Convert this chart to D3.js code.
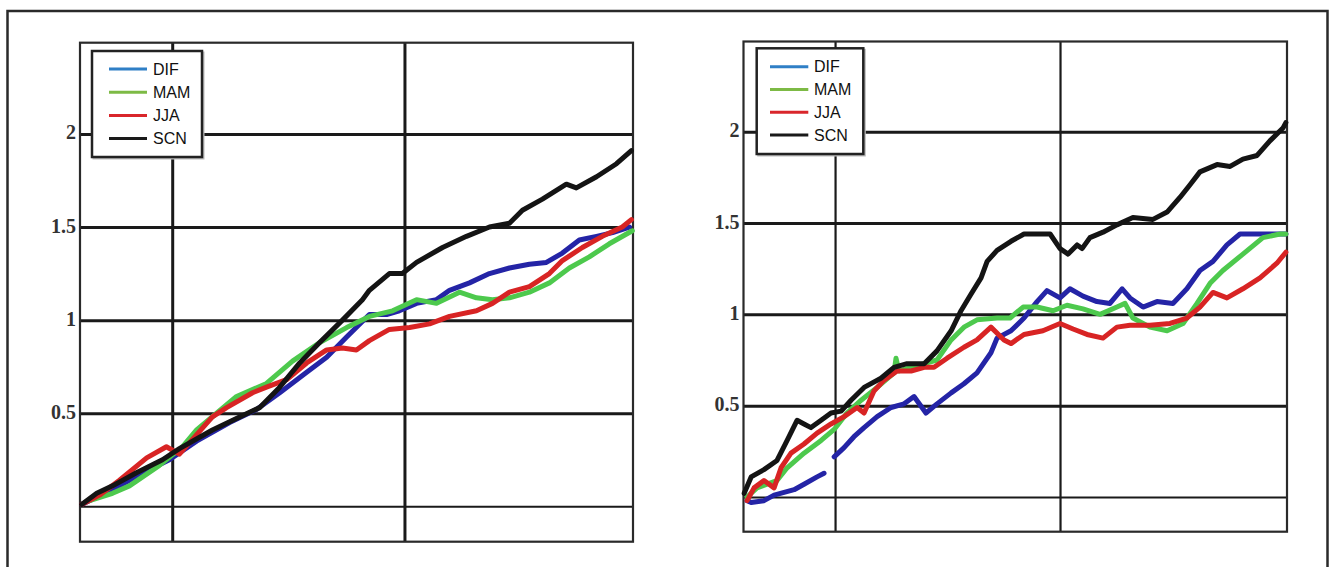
<!DOCTYPE html>
<html>
<head>
<meta charset="utf-8">
<script src="https://cdn.jsdelivr.net/npm/d3@7"></script>
<style>
  html, body { margin: 0; padding: 0; background: #fff; }
  svg { display: block; }
</style>
</head>
<body>
<svg id="chart" width="1330" height="567"></svg>
<script>
// ---------- data ----------
const seriesNames = ["DIF", "MAM", "JJA", "SCN"];
const yGridValues = [0, 0.5, 1, 1.5, 2];
const yTickLabels = ["", "0.5", "1", "1.5", "2"];
const xGridValues = [0, 1];

// left panel
const leftDIF = [[-0.390,0.01],[-0.257,0.09],[-0.110,0.19],[-0.012,0.25],[0.105,0.35],[0.247,0.45],[0.363,0.52],[0.463,0.61],[0.579,0.72],[0.665,0.80],[0.751,0.91],[0.849,1.03],[0.923,1.03],[0.978,1.05],[1.052,1.09],[1.138,1.11],[1.194,1.16],[1.280,1.20],[1.366,1.25],[1.452,1.28],[1.538,1.30],[1.611,1.31],[1.680,1.36],[1.753,1.43],[1.827,1.45],[1.896,1.47],[1.969,1.50]];
const leftMAM = [[-0.356,0.03],[-0.257,0.07],[-0.184,0.11],[-0.055,0.22],[0.044,0.32],[0.105,0.41],[0.277,0.59],[0.406,0.66],[0.518,0.78],[0.635,0.88],[0.751,0.96],[0.849,1.02],[0.949,1.05],[1.052,1.11],[1.138,1.09],[1.237,1.15],[1.310,1.12],[1.379,1.11],[1.452,1.12],[1.538,1.15],[1.624,1.20],[1.710,1.28],[1.796,1.34],[1.882,1.41],[1.981,1.48]];
const leftJJA = [[-0.390,0.01],[-0.313,0.06],[-0.227,0.14],[-0.110,0.26],[-0.025,0.32],[0.031,0.28],[0.173,0.48],[0.234,0.53],[0.346,0.61],[0.406,0.64],[0.492,0.68],[0.579,0.77],[0.665,0.84],[0.733,0.85],[0.793,0.84],[0.849,0.89],[0.935,0.95],[1.022,0.96],[1.108,0.98],[1.194,1.02],[1.310,1.05],[1.379,1.09],[1.452,1.15],[1.538,1.18],[1.624,1.25],[1.680,1.32],[1.766,1.39],[1.852,1.45],[1.938,1.50],[1.977,1.54]];
const leftSCN = [[-0.390,0.01],[-0.325,0.07],[-0.257,0.11],[-0.154,0.18],[-0.042,0.25],[0.031,0.31],[0.173,0.41],[0.290,0.48],[0.376,0.53],[0.463,0.64],[0.549,0.77],[0.635,0.88],[0.733,1.00],[0.819,1.11],[0.849,1.16],[0.935,1.25],[0.991,1.25],[1.052,1.31],[1.164,1.39],[1.267,1.45],[1.366,1.50],[1.452,1.52],[1.508,1.59],[1.594,1.65],[1.697,1.73],[1.740,1.71],[1.827,1.77],[1.913,1.84],[1.977,1.91]];

// right panel
const rightDIF = [[-0.391,-0.02],[-0.373,-0.03],[-0.316,-0.02],[-0.271,0.01],[-0.182,0.04],[-0.138,0.07],[-0.080,0.11],[-0.049,0.13],null,[-0.004,0.22],[0.040,0.27],[0.084,0.33],[0.129,0.38],[0.187,0.44],[0.249,0.49],[0.307,0.51],[0.351,0.55],[0.404,0.46],[0.453,0.51],[0.516,0.57],[0.573,0.62],[0.631,0.68],[0.693,0.79],[0.720,0.87],[0.782,0.91],[0.840,0.98],[0.898,1.07],[0.942,1.13],[1.000,1.09],[1.044,1.14],[1.102,1.10],[1.164,1.07],[1.222,1.06],[1.276,1.14],[1.311,1.09],[1.369,1.04],[1.431,1.07],[1.502,1.06],[1.564,1.14],[1.622,1.24],[1.680,1.29],[1.742,1.38],[1.800,1.44],[1.876,1.44],[1.933,1.44],[2.004,1.44]];
const rightMAM = [[-0.391,0.00],[-0.347,0.05],[-0.302,0.07],[-0.258,0.09],[-0.213,0.16],[-0.138,0.24],[-0.062,0.31],[-0.004,0.37],[0.053,0.46],[0.116,0.53],[0.187,0.60],[0.262,0.68],[0.271,0.76],[0.284,0.69],[0.338,0.71],[0.396,0.73],[0.453,0.75],[0.516,0.86],[0.573,0.93],[0.631,0.97],[0.720,0.98],[0.778,0.98],[0.836,1.04],[0.898,1.04],[0.969,1.02],[1.031,1.05],[1.102,1.03],[1.178,1.00],[1.253,1.04],[1.289,1.06],[1.324,0.98],[1.400,0.93],[1.476,0.91],[1.547,0.95],[1.609,1.06],[1.667,1.17],[1.724,1.24],[1.813,1.33],[1.902,1.42],[1.978,1.44],[2.004,1.44]];
const rightJJA = [[-0.391,-0.02],[-0.360,0.05],[-0.316,0.09],[-0.271,0.05],[-0.240,0.16],[-0.196,0.24],[-0.138,0.29],[-0.080,0.35],[-0.018,0.40],[0.040,0.44],[0.098,0.49],[0.129,0.46],[0.173,0.58],[0.218,0.64],[0.276,0.69],[0.338,0.69],[0.396,0.71],[0.440,0.71],[0.498,0.76],[0.573,0.82],[0.631,0.86],[0.693,0.93],[0.751,0.86],[0.782,0.84],[0.840,0.89],[0.924,0.91],[1.000,0.95],[1.058,0.92],[1.120,0.89],[1.191,0.87],[1.253,0.93],[1.311,0.94],[1.400,0.94],[1.489,0.95],[1.564,0.98],[1.622,1.04],[1.680,1.12],[1.742,1.09],[1.813,1.14],[1.889,1.20],[1.964,1.28],[2.004,1.34]];
const rightSCN = [[-0.404,0.02],[-0.373,0.11],[-0.316,0.15],[-0.258,0.20],[-0.213,0.31],[-0.169,0.42],[-0.138,0.40],[-0.107,0.38],[-0.062,0.42],[-0.018,0.46],[0.027,0.47],[0.071,0.53],[0.129,0.60],[0.204,0.65],[0.262,0.71],[0.320,0.73],[0.396,0.73],[0.453,0.80],[0.516,0.91],[0.560,1.02],[0.604,1.11],[0.649,1.20],[0.676,1.29],[0.720,1.35],[0.782,1.40],[0.840,1.44],[0.898,1.44],[0.956,1.44],[1.000,1.36],[1.036,1.33],[1.076,1.38],[1.098,1.36],[1.133,1.42],[1.191,1.45],[1.253,1.49],[1.324,1.53],[1.413,1.52],[1.476,1.56],[1.533,1.64],[1.578,1.71],[1.622,1.78],[1.698,1.82],[1.756,1.81],[1.813,1.85],[1.876,1.87],[1.933,1.95],[1.991,2.02],[2.004,2.05]];

// ---------- styling ----------
const lineColors   = { DIF: "#2424a6", MAM: "#4dc94d", JJA: "#d82424", SCN: "#141414" };
const legendColors = { DIF: "#2f7fc6", MAM: "#7dba45", JJA: "#d9262b", SCN: "#1a1a1a" };
const drawOrder = ["DIF", "MAM", "JJA", "SCN"];

const svg = d3.select("#chart");

// outer frame
svg.append("rect")
  .attr("x", 7.5).attr("y", 11).attr("width", 1320).attr("height", 620)
  .attr("fill", "none").attr("stroke", "#2a2a2a").attr("stroke-width", 2.5);

const panels = [
  {
    left: 80, right: 633, top: 42.7, bottom: 541.7,
    xDomain: [-0.397, 1.984], yDomain: [-0.19, 2.49],
    data: { DIF: leftDIF, MAM: leftMAM, JJA: leftJJA, SCN: leftSCN },
    vGridW: 3, legend: { x: 92, y: 51, w: 110, h: 106, rowY: 18, rowGap: 23.2, lineX0: 17, lineX1: 55, textX: 61 }
  },
  {
    left: 743.5, right: 1287, top: 41.5, bottom: 531.7,
    xDomain: [-0.407, 2.009], yDomain: [-0.19, 2.494],
    data: { DIF: rightDIF, MAM: rightMAM, JJA: rightJJA, SCN: rightSCN },
    vGridW: 2.2, legend: { x: 756.7, y: 48.3, w: 106.6, h: 105.7, rowY: 18.4, rowGap: 22.8, lineX0: 13.3, lineX1: 51.6, textX: 57.3 }
  }
];

panels.forEach(p => {
  const x = d3.scaleLinear().domain(p.xDomain).range([p.left, p.right]);
  const y = d3.scaleLinear().domain(p.yDomain).range([p.bottom, p.top]);
  const g = svg.append("g");
  const w = p.right - p.left;
  const h = p.bottom - p.top;

  // horizontal grid + labels via axis
  const yAxis = d3.axisLeft(y)
    .tickValues(yGridValues)
    .tickSize(-w)
    .tickPadding(4)
    .tickFormat((d, i) => yTickLabels[i]);
  const ya = g.append("g").attr("transform", `translate(${p.left},0)`).call(yAxis);
  ya.select(".domain").remove();
  ya.selectAll(".tick line")
    .attr("stroke", "#1a1a1a")
    .attr("stroke-width", d => d === 0 ? 2 : 3);
  ya.selectAll(".tick text")
    .attr("font-family", "'Liberation Serif', 'DejaVu Serif', serif")
    .attr("font-weight", "bold")
    .attr("font-size", 20)
    .attr("fill", "#333")
    .attr("dy", "0.25em");

  // vertical grid via axis
  const xAxis = d3.axisBottom(x)
    .tickValues(xGridValues)
    .tickSize(-h)
    .tickFormat("");
  const xa = g.append("g").attr("transform", `translate(0,${p.bottom})`).call(xAxis);
  xa.select(".domain").remove();
  xa.selectAll(".tick line").attr("stroke", "#1a1a1a").attr("stroke-width", p.vGridW);

  // plot border
  g.append("rect")
    .attr("x", p.left).attr("y", p.top).attr("width", w).attr("height", h)
    .attr("fill", "none").attr("stroke", "#2a2a2a").attr("stroke-width", 2.2);

  // series
  const line = d3.line()
    .defined(d => d !== null)
    .x(d => x(d[0]))
    .y(d => y(d[1]))
    .curve(d3.curveLinear);
  drawOrder.forEach(name => {
    g.append("path")
      .datum(p.data[name])
      .attr("d", line)
      .attr("fill", "none")
      .attr("stroke", lineColors[name])
      .attr("stroke-width", 5)
      .attr("stroke-linejoin", "round")
      .attr("stroke-linecap", "round");
  });

  // legend
  const L = p.legend;
  const lg = g.append("g").attr("transform", `translate(${L.x},${L.y})`);
  lg.append("rect")
    .attr("x", 1.5).attr("y", 1.5).attr("width", L.w).attr("height", L.h)
    .attr("fill", "none").attr("stroke", "#bbb").attr("stroke-width", 2);
  lg.append("rect")
    .attr("width", L.w).attr("height", L.h)
    .attr("fill", "#fff").attr("stroke", "#222").attr("stroke-width", 2.5);
  seriesNames.forEach((name, i) => {
    const ry = L.rowY + i * L.rowGap;
    lg.append("line")
      .attr("x1", L.lineX0).attr("x2", L.lineX1)
      .attr("y1", ry).attr("y2", ry)
      .attr("stroke", legendColors[name]).attr("stroke-width", 3);
    lg.append("text")
      .attr("x", L.textX).attr("y", ry)
      .attr("dy", "0.36em")
      .attr("font-family", "'Liberation Sans', Arial, sans-serif")
      .attr("font-size", 16)
      .attr("fill", "#111")
      .text(name);
  });
});
</script>
</body>
</html>
